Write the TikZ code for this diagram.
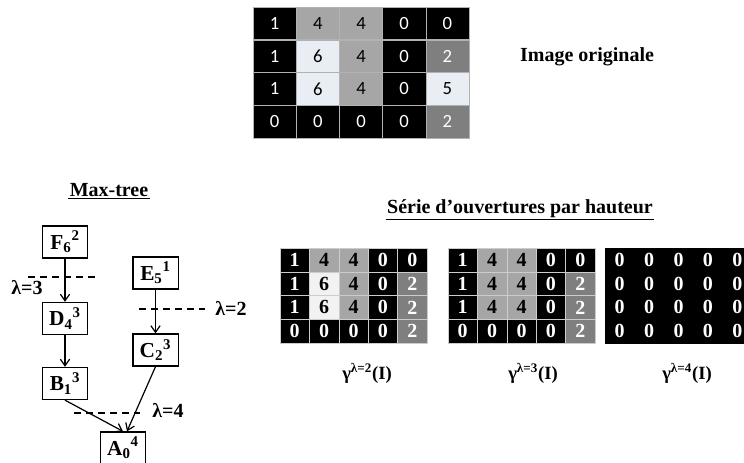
\documentclass[tikz,border=0pt]{standalone}
\usepackage{fontspec}
\setmainfont{Liberation Serif}
\newfontfamily\calibrifont{Carlito}
\usetikzlibrary{arrows.meta, positioning}

% cell colours: f = fill, t = text
\colorlet{fk}{black}            \colorlet{tk}{white}
\definecolor{fg}{HTML}{A6A6A6}  \colorlet{tg}{black}
\definecolor{fl}{HTML}{E9EEF4}  \colorlet{tl}{black}
\definecolor{fd}{HTML}{7F7F7F}  \colorlet{td}{white}
\definecolor{fw}{HTML}{F2F2F2}  \colorlet{tw}{black}

\begin{document}
\begin{tikzpicture}[
        x=0.75pt, y=-0.75pt,
        topcell/.style={rectangle, draw=gray!60, line width=0.4pt, minimum width=32.4pt, minimum height=24.5pt, inner sep=0pt, font=\calibrifont\fontsize{14}{14}\selectfont},
        sercell/.style={rectangle, draw=gray!40, line width=0.3pt, minimum width=22pt, minimum height=17.8pt, inner sep=0pt, font=\bfseries\fontsize{15}{15}\selectfont},
        treenode/.style={rectangle, draw=black, fill=white, line width=1pt, minimum width=34pt, minimum height=24pt, inner sep=0pt, font=\bfseries\fontsize{16}{16}\selectfont},
        treearrow/.style={-{Straight Barb[length=5pt,width=7pt]}, line width=0.9pt, color=black},
        cutline/.style={dashed, dash pattern=on 5pt off 4pt, line width=0.8pt},
        cutlabel/.style={inner sep=0pt, font=\bfseries\fontsize{15}{15}\selectfont},
        titletext/.style={inner sep=1pt, font=\bfseries\fontsize{15}{15}\selectfont},
        titleline/.style={line width=1.1pt},
        gammatext/.style={inner sep=0pt, font=\bfseries\fontsize{14}{14}\selectfont}
    ]
        \useasboundingbox (0,0) rectangle (744,463);

        % Original image
        \foreach \row [count=\r from 0] in {{1/k,4/g,4/g,0/k,0/k},{1/k,6/l,4/g,0/k,2/d},{1/k,6/l,4/g,0/k,5/l},{0/k,0/k,0/k,0/k,2/d}}
            \foreach \v/\c [count=\j from 0] in \row
                \node[topcell, fill=f\c, text=t\c] (orig-\r-\j) at ({274.6+43.2*\j},{23.4+32.75*\r}) {\v};
        \node[titletext] (origlabel) at (587,57) {Image originale};

        % Max-tree
        \node[titletext] (treetitle) at (109,190) {Max-tree};
        \draw[titleline] (treetitle.south west) -- (treetitle.south east);
        \node[treenode] (F) at (65,242) {F\textsubscript{6}\textsuperscript{2}};
        \node[treenode] (E) at (155.5,273) {E\textsubscript{5}\textsuperscript{1}};
        \node[treenode] (D) at (65,318.5) {D\textsubscript{4}\textsuperscript{3}};
        \node[treenode] (C) at (155.5,350) {C\textsubscript{2}\textsuperscript{3}};
        \node[treenode] (B) at (65,383.5) {B\textsubscript{1}\textsuperscript{3}};
        \node[treenode] (A) at (123,448) {A\textsubscript{0}\textsuperscript{4}};

        \draw[treearrow] (F) -- (D);
        \draw[treearrow] (E) -- (C);
        \draw[treearrow] (D) -- (B);
        \draw[treearrow] (B.south) -- (A.north);
        \draw[treearrow] (C.south) -- ([xshift=3pt]A.north);

        % Height cuts
        \draw[cutline] (28,277) -- (96,277);
        \node[cutlabel] (cut3) at (27,288) {λ=3};
        \draw[cutline] (139,309) -- (205,309);
        \node[cutlabel] (cut2) at (231,308) {λ=2};
        \draw[cutline] (74,413) -- (140,413);
        \node[cutlabel] (cut4) at (168,410) {λ=4};

        % Series of openings
        \node[titletext] (sertitle) at (520,209) {Série d’ouvertures par hauteur};
        \draw[titleline] (sertitle.south west) -- (sertitle.south east);
        \foreach \row [count=\r from 0] in {{1/k,4/g,4/g,0/k,0/k},{1/k,6/w,4/g,0/k,2/d},{1/k,6/w,4/g,0/k,2/d},{0/k,0/k,0/k,0/k,2/d}}
            \foreach \v/\c [count=\j from 0] in \row
                \node[sercell, fill=f\c, text=t\c] (open2-\r-\j) at ({294.7+29.4*\j},{259.9+23.75*\r}) {\v};
        \foreach \row [count=\r from 0] in {{1/k,4/g,4/g,0/k,0/k},{1/k,4/g,4/g,0/k,2/d},{1/k,4/g,4/g,0/k,2/d},{0/k,0/k,0/k,0/k,2/d}}
            \foreach \v/\c [count=\j from 0] in \row
                \node[sercell, fill=f\c, text=t\c] (open3-\r-\j) at ({462.7+29.4*\j},{259.9+23.75*\r}) {\v};
        \foreach \row [count=\r from 0] in {{0/k,0/k,0/k,0/k,0/k},{0/k,0/k,0/k,0/k,0/k},{0/k,0/k,0/k,0/k,0/k},{0/k,0/k,0/k,0/k,0/k}}
            \foreach \v/\c [count=\j from 0] in \row
                \node[sercell, fill=f\c, text=t\c, draw=black] (open4-\r-\j) at ({619.7+29.4*\j},{259.9+23.75*\r}) {\v};

        \node[gammatext] (gamma2) at (367,373) {γ\textsuperscript{λ=2}(I)};
        \node[gammatext] (gamma3) at (533,373) {γ\textsuperscript{λ=3}(I)};
        \node[gammatext] (gamma4) at (687,373) {γ\textsuperscript{λ=4}(I)};
    \end{tikzpicture}
\end{document}
